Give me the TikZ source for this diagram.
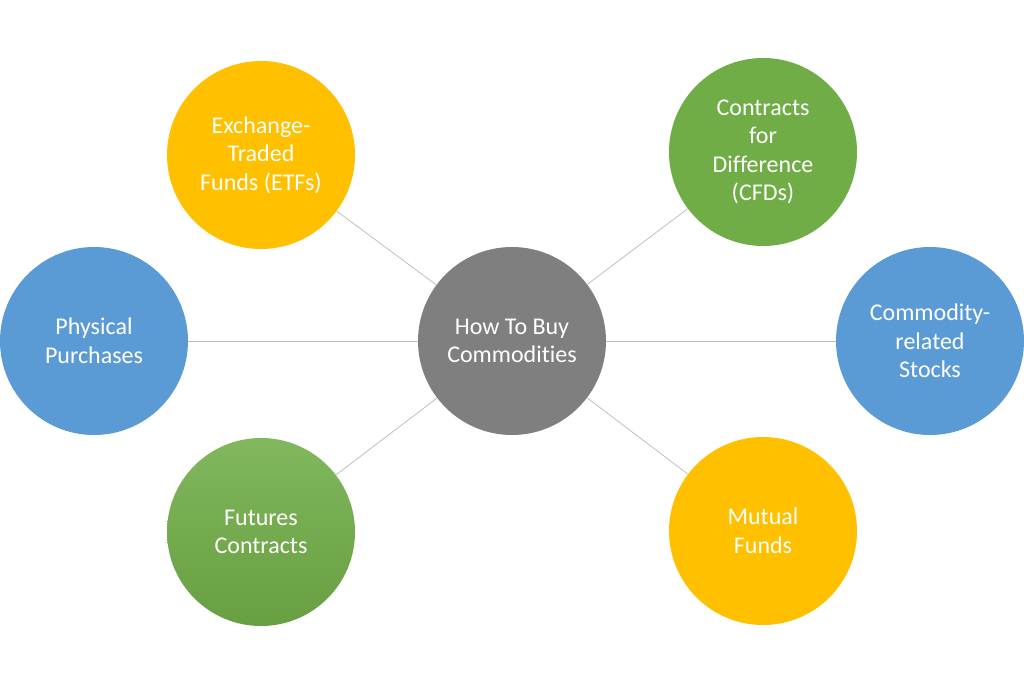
\documentclass[tikz,border=0pt]{standalone}
\usepackage{fontspec}
\setmainfont[Ligatures=NoCommon]{Carlito}
\definecolor{hubgray}{HTML}{7F7F7F}
\definecolor{gold}{HTML}{FFC000}
\definecolor{skyblue}{HTML}{5B9BD5}
\definecolor{leaf}{HTML}{70AD47}
\definecolor{spoke}{HTML}{BFBFBF}
\begin{document}
\begin{tikzpicture}[x=1pt,y=1pt,
  bubble/.style={circle,minimum size=188pt,inner sep=0pt,text=white,align=center,
    font=\fontsize{24}{28.5}\selectfont},
  link/.style={draw=spoke,line width=0.8pt}]
\useasboundingbox (0,0) rectangle (1024,683);
% hub
\node [bubble,fill=hubgray] (hub) at (512,342) {How To Buy\\Commodities};
% around the hub
\node [bubble,fill=gold] (etf) at (261,528) {Exchange-\\Traded\\Funds (ETFs)};
\node [bubble,fill=leaf] (cfd) at (763,531) {Contracts\\for\\Difference\\(CFDs)};
\node [bubble,fill=skyblue] (phys) at (94,342) {Physical\\Purchases};
\node [bubble,fill=skyblue] (stock) at (930,342) {Commodity-\\related\\Stocks};
\node [bubble,top color=leaf!88!white,bottom color=leaf!92!black] (fut) at (261,151) {Futures\\Contracts};
\node [bubble,fill=gold] (mut) at (763,152) {Mutual\\Funds};
% spokes
\draw [link] (hub) -- (etf);
\draw [link] (hub) -- (cfd);
\draw [link] (hub) -- (phys);
\draw [link] (hub) -- (stock);
\draw [link] (hub) -- (fut);
\draw [link] (hub) -- (mut);
\end{tikzpicture}
\end{document}
